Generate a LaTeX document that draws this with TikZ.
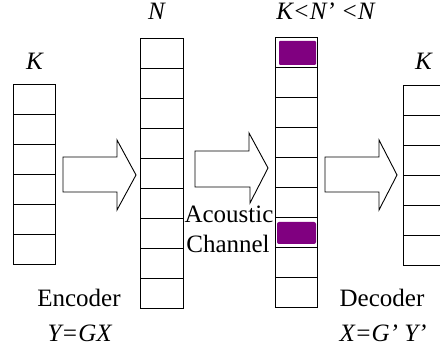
\documentclass[tikz,border=0pt]{standalone}
\usepackage{fontspec}
\setmainfont{Liberation Serif}
\begin{document}
\begin{tikzpicture}[x=1pt,y=-1pt,
  cell/.style={draw=black,line width=1pt,fill=white},
  blockarrow/.style={draw=black,line width=0.9pt,fill=white,line join=miter},
  lbl/.style={anchor=base,inner sep=0pt,font=\fontsize{25}{28}\selectfont}]
\definecolor{bitpurple}{HTML}{800080}
\useasboundingbox (0,0) rectangle (440,355);
\clip (0,0) rectangle (440,355);

% message column, K cells
\foreach \i in {0,...,5}
  \draw[cell] (13,85+30*\i) rectangle (55,115+30*\i);
% codeword column, N cells
\foreach \i in {0,...,8}
  \draw[cell] (140,39+30*\i) rectangle (183,69+30*\i);
% received column, N' cells
\foreach \i in {0,...,8}
  \draw[cell] (275,38+30*\i) rectangle (317,68+30*\i);
% erased symbols
\fill[bitpurple,rounded corners=1pt] (279,41) rectangle (316,65);
\fill[bitpurple,rounded corners=2pt] (277,222) rectangle (316,244);
% decoded column, K cells
\foreach \i in {0,...,5}
  \draw[cell] (403,86+30*\i) rectangle (446,116+30*\i);

% block arrows
\draw[blockarrow] (63,157) -- (117,157) -- (117,140) -- (136,175) -- (117,210)
  -- (117,192) -- (63,192) -- cycle;
\draw[blockarrow] (195,151) -- (249,151) -- (249,133) -- (268,168) -- (250,203)
  -- (250,187) -- (195,187) -- cycle;
\draw[blockarrow] (325,157) -- (379,157) -- (379,140) -- (397,175) -- (379,210)
  -- (379,192) -- (325,192) -- cycle;

% labels
\node[lbl] (kin) at (35,70) {\textit{K}};
\node[lbl] (nlab) at (157,20) {\textit{N}};
\node[lbl] (nplab) at (326,20) {\textit{K<N’ <N}};
\node[lbl] (kout) at (424,70) {\textit{K}};
\node[lbl] (ac1) at (229,223) {Acoustic};
\node[lbl] (ac2) at (228,253) {Channel};
\node[lbl] (enc) at (79,307) {Encoder};
\node[lbl] (enceq) at (80,342) {\textit{Y=GX}};
\node[lbl] (dec) at (382,307) {Decoder};
\node[lbl] (deceq) at (383,342) {\textit{X=G’ Y’}};
\end{tikzpicture}
\end{document}
